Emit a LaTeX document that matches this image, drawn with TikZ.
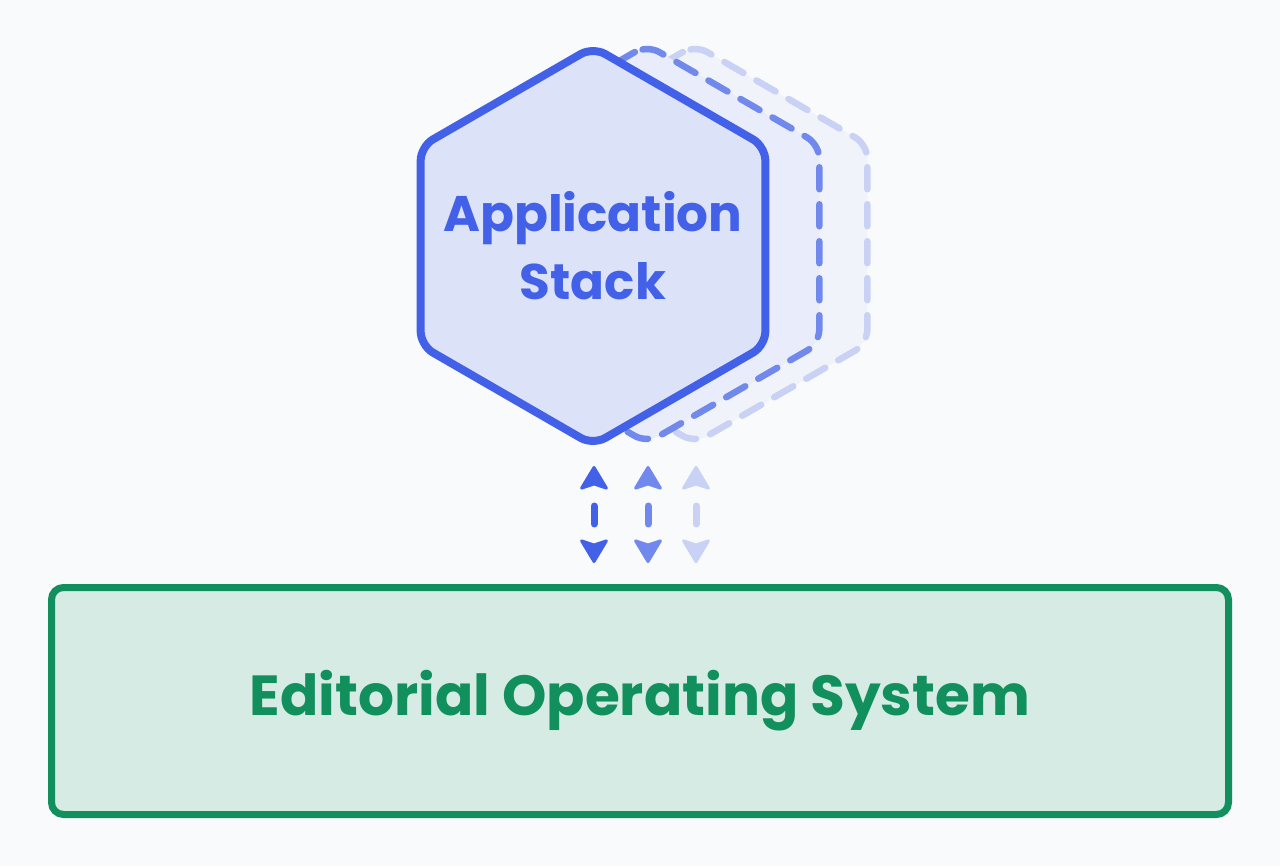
\documentclass[tikz,border=0pt]{standalone}
\usepackage{fontspec}
\setmainfont{Poppins}
\usetikzlibrary{shapes.geometric,arrows.meta}
\definecolor{bgpage}{HTML}{F8FAFC}
\definecolor{stackblue}{HTML}{4361E8}
\definecolor{stackfill}{HTML}{DCE2F8}
\definecolor{ghostone}{HTML}{7189EC}
\definecolor{ghosttwo}{HTML}{C9D1F5}
\definecolor{ghostfillone}{HTML}{E9ECFA}
\definecolor{ghostfilltwo}{HTML}{F1F3FB}
\definecolor{osgreen}{HTML}{11905E}
\definecolor{osfill}{HTML}{D5EBE4}
\begin{document}
\begin{tikzpicture}[x=1pt,y=-1pt,
  hexa/.style={regular polygon,regular polygon sides=6,shape border rotate=30,
    minimum size=398pt,inner sep=0pt,rounded corners=14pt},
  ghost/.style={hexa,dash pattern=on 22pt off 15pt,line width=6.5pt,line cap=round},
  linktips/.style={tips,{Stealth[round,length=26pt,width=31pt,inset=5pt]}-{Stealth[round,length=26pt,width=31pt,inset=5pt]},line width=3pt},
  linkshaft/.style={line width=7pt,line cap=round,shorten <=40pt,shorten >=39pt}]
  \fill[bgpage] (0,0) rectangle (1280,866);
  \useasboundingbox (0,0) rectangle (1280,866);

  % stacked copies behind the hexagon
  \node[ghost,draw=ghosttwo,fill=ghostfilltwo] (ghostB) at (695,244) {};
  \node[ghost,draw=ghostone,fill=ghostfillone] (ghostA) at (647,244) {};
  \node[hexa,draw=stackblue,fill=stackfill,line width=8pt] (app) at (593,246) {};
  \node[text=stackblue,align=center,font=\bfseries\fontsize{50}{68}\selectfont]
    (applabel) at (app.center) {Application\\Stack};

  \node[rectangle,draw=osgreen,fill=osfill,line width=7pt,rounded corners=12pt,
    minimum width=1177pt,minimum height=227pt,text=osgreen,
    font=\bfseries\fontsize{56.5}{60}\selectfont] (eos) at (640,701) {Editorial Operating System};

  \coordinate (t1) at (594,466); \coordinate (b1) at (594,563);
  \coordinate (t2) at (648,466); \coordinate (b2) at (648,563);
  \coordinate (t3) at (696,466); \coordinate (b3) at (696,563);
  \draw[linkshaft,stackblue] (t1) -- (b1);
  \path[linktips,color=stackblue] (t1) -- (b1);
  \draw[linkshaft,ghostone] (t2) -- (b2);
  \path[linktips,color=ghostone] (t2) -- (b2);
  \draw[linkshaft,ghosttwo] (t3) -- (b3);
  \path[linktips,color=ghosttwo] (t3) -- (b3);
\end{tikzpicture}
\end{document}
